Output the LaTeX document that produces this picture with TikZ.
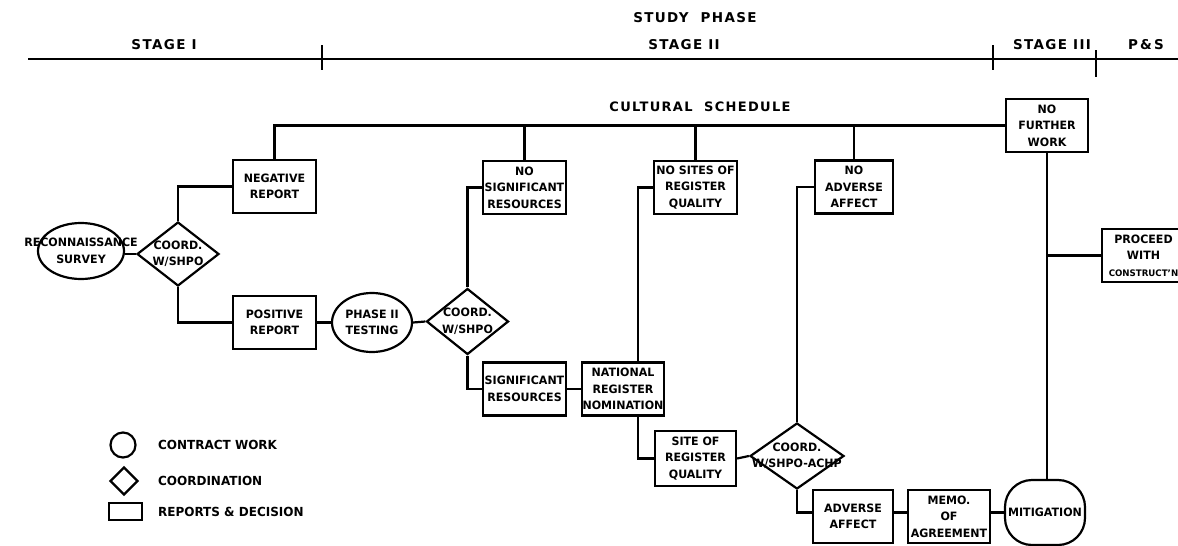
\documentclass[tikz,border=0pt]{standalone}
\usepackage{fontspec}
\setmainfont{DejaVu Sans}[FakeStretch=0.96]
\newfontfamily\headfont{DejaVu Sans}[LetterSpace=10]
\usetikzlibrary{shapes.geometric}

\begin{document}
\begin{tikzpicture}[x=1pt,y=-1pt,
  line width=2.2pt,
  every node/.style={inner sep=0pt, align=center,
    font=\bfseries\fontsize{11.5}{16.5}\selectfont},
  box/.style={draw, rectangle, minimum width=83pt, minimum height=53pt},
  oval/.style={draw, ellipse},
  coordbox/.style={draw, diamond, minimum width=82pt, minimum height=66pt},
  head/.style={font=\headfont\bfseries\fontsize{13.5}{15}\selectfont},
  legendtext/.style={anchor=west, font=\bfseries\fontsize{12.5}{14}\selectfont}
]
\useasboundingbox (0,0) rectangle (1178,546);
\clip (0,0) rectangle (1178,546);

% ---- phase / stage ruler ----
\coordinate (rulerL) at (28,59);
\coordinate (rulerR) at (1178,59);
\draw (rulerL) -- (rulerR);
\coordinate (t1a) at (322,45); \coordinate (t1b) at (322,70);
\coordinate (t2a) at (993,45); \coordinate (t2b) at (993,70);
\coordinate (t3a) at (1096,50); \coordinate (t3b) at (1096,77);
\draw (t1a) -- (t1b);
\draw (t2a) -- (t2b);
\draw (t3a) -- (t3b);

\node[head] (study) at (695,18) {STUDY\ \ PHASE};
\node[head] (st1) at (164,45) {STAGE I};
\node[head] (st2) at (684,45) {STAGE II};
\node[head] (st3) at (1052,45) {STAGE III};
\node[head] (ps) at (1146,45) {P\,\&\,S};
\node[head, font=\headfont\bfseries\fontsize{13}{15}\selectfont] (cult) at (700,107) {CULTURAL\ \ SCHEDULE};

% ---- top row of outcome boxes ----
\node[box] (neg) at (274.5,186.5) {NEGATIVE\\REPORT};
\node[box] (nosig) at (524.5,187.5) {NO\\SIGNIFICANT\\RESOURCES};
\node[box] (nosites) at (695.5,187.5) {NO SITES OF\\REGISTER\\QUALITY};
\node[box, minimum width=78pt] (noadv) at (854,187) {NO\\ADVERSE\\AFFECT};
\node[box, minimum width=82pt] (nfw) at (1047,125.5) {NO\\FURTHER\\WORK};
\node[box] (proc) at (1143.5,255.5) {PROCEED\\WITH\\{\fontsize{9}{16.5}\selectfont CONSTRUCT'N}};

% ---- survey and first coordination ----
\node[oval, minimum width=86pt, minimum height=56pt] (recon) at (81,251) {};
\node (recontext) at (recon.center) {RECONNAISSANCE\\SURVEY};
\node[coordbox, minimum height=64pt] (c1) at (178,254) {};
\node (c1text) at (c1.center) {COORD.\\W/SHPO};
\node[box] (pos) at (274.5,322.5) {POSITIVE\\REPORT};

% ---- testing and second coordination ----
\node[oval, minimum width=80pt, minimum height=59pt] (test) at (372,322.5) {};
\node (testtext) at (test.center) {PHASE II\\TESTING};
\node[coordbox] (c2) at (467.5,321.5) {};
\node (c2text) at (c2.center) {COORD.\\W/SHPO};
\node[box] (sig) at (524.5,389) {SIGNIFICANT\\RESOURCES};
\node[box, minimum width=82pt] (nat) at (623,389) {NATIONAL\\REGISTER\\NOMINATION};
\node[box, minimum width=81pt, minimum height=55pt] (site) at (695.5,458.5) {SITE OF\\REGISTER\\QUALITY};

% ---- third coordination and mitigation ----
\node[coordbox, minimum width=94pt, minimum height=66pt] (c3) at (797,456) {};
\node (c3text) at (c3.center) {COORD.\\W/SHPO-ACHP};
\node[box, minimum width=80pt] (adv) at (853,516.5) {ADVERSE\\AFFECT};
\node[box, minimum width=82pt] (memo) at (949,516.5) {MEMO.\\OF\\AGREEMENT};
\node[draw, rectangle, rounded corners=27pt, minimum width=80pt,
      minimum height=65pt] (mitig) at (1045,512.5) {MITIGATION};

% ---- cultural schedule line ----
\draw (neg.north) |- (nfw.west);
\draw (nosig.north) -- (nosig.north |- nfw.west);
\draw (nosites.north) -- (nosites.north |- nfw.west);
\draw (noadv.north) -- (noadv.north |- nfw.west);

% ---- connectors ----
\draw (recon.east |- c1.west) -- (c1.west);
\draw (c1.north) |- (neg.west);
\draw (c1.south) |- (pos.west);
\draw (pos.east) -- (test.west);
\draw (test.east) -- (c2.west);
\draw (c2.north) |- (nosig.west);
\draw (c2.south) |- (sig.west);
\draw (sig.east) -- (nat.west);
\draw (nosites.west) -| ([xshift=15pt]nat.north);
\draw ([xshift=15pt]nat.south) |- (site.west);
\draw (site.east) -- (c3.west);
\draw (noadv.west) -| (c3.north);
\draw (c3.south) |- (adv.west |- mitig.west);
\draw (adv.east |- mitig.west) -- (memo.west |- mitig.west);
\draw (memo.east |- mitig.west) -- (mitig.west);
\draw (nfw.south) -- (nfw.south |- mitig.north);
\draw (nfw.south |- proc.west) -- (proc.west);

% ---- legend ----
\node[draw, circle, minimum size=25pt] (lgcirc) at (123,445) {};
\node[draw, diamond, minimum width=28pt, minimum height=28pt] (lgdiam) at (124,481) {};
\node[draw, rectangle, minimum width=33pt, minimum height=17pt] (lgrect) at (125.5,511.5) {};
\node[legendtext] (lgt1) at (157,445) {CONTRACT WORK};
\node[legendtext] (lgt2) at (157,481) {COORDINATION};
\node[legendtext] (lgt3) at (157,512) {REPORTS \& DECISION};
\end{tikzpicture}
\end{document}
